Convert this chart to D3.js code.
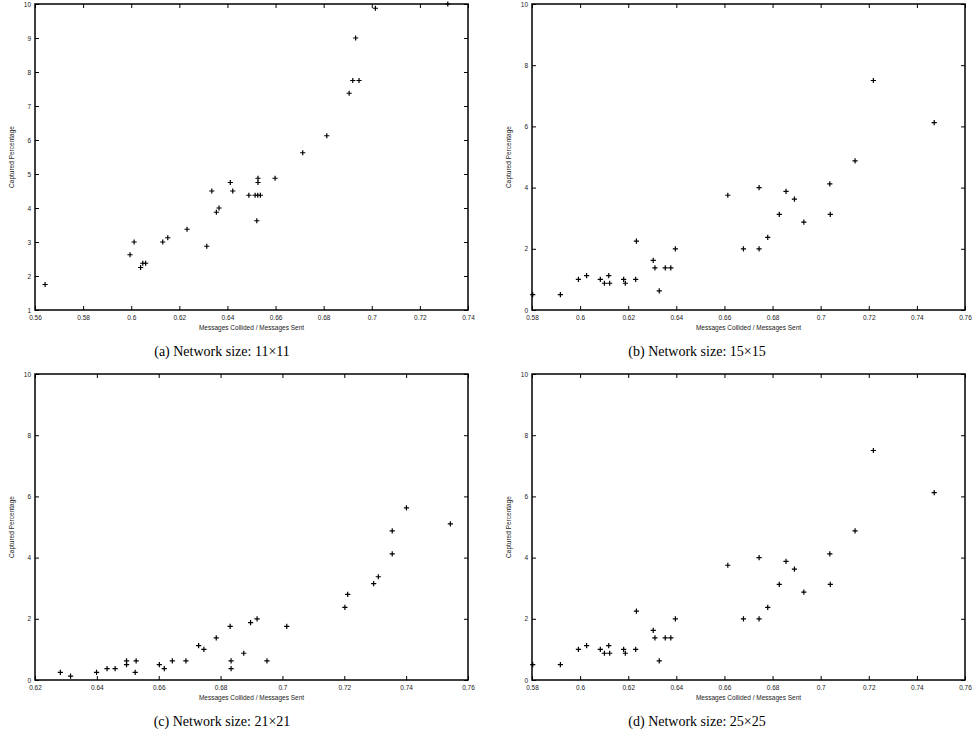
<!DOCTYPE html>
<html>
<head>
<meta charset="utf-8">
<script src="https://cdn.jsdelivr.net/npm/d3@7"></script>
<style>
  body { margin: 0; background: #fff; }
</style>
</head>
<body>
<div id="chart"></div>
<script>
// (a) Network size 11x11
const collidedA = [0.5642, 0.5995, 0.6012, 0.6039, 0.6048, 0.6060, 0.6131, 0.6152, 0.6232, 0.6314,
  0.6335, 0.6354, 0.6365, 0.6412, 0.6422, 0.6489, 0.6515, 0.6526, 0.6537, 0.6527, 0.6527, 0.6522,
  0.6598, 0.6713, 0.6813, 0.6906, 0.6921, 0.6947, 0.6933, 0.7015, 0.7316];
const capturedA = [1.75, 2.625, 3.0, 2.25, 2.375, 2.375, 3.0, 3.125, 3.375, 2.875,
  4.5, 3.875, 4.0, 4.75, 4.5, 4.375, 4.375, 4.375, 4.375, 4.875, 4.75, 3.625,
  4.875, 5.625, 6.125, 7.375, 7.75, 7.75, 9.0, 9.875, 10.0];

// (b) Network size 15x15
const collidedB = [0.5803, 0.5918, 0.5993, 0.6027, 0.6084, 0.6101, 0.6119, 0.6123, 0.6181, 0.6188,
  0.6231, 0.6234, 0.6304, 0.6311, 0.6329, 0.6354, 0.6377, 0.6396, 0.6614, 0.6679, 0.6744, 0.6744,
  0.6780, 0.6828, 0.6856, 0.6891, 0.6930, 0.7038, 0.7040, 0.7143, 0.7219, 0.7472];
const capturedB = [0.5, 0.5, 1.0, 1.125, 1.0, 0.875, 1.125, 0.875, 1.0, 0.875,
  1.0, 2.25, 1.625, 1.375, 0.625, 1.375, 1.375, 2.0, 3.75, 2.0, 2.0, 4.0,
  2.375, 3.125, 3.875, 3.625, 2.875, 4.125, 3.125, 4.875, 7.5, 6.125];

// (c) Network size 21x21
const collidedC = [0.6282, 0.6315, 0.6399, 0.6433, 0.6459, 0.6496, 0.6496, 0.6524, 0.6527, 0.6602,
  0.6618, 0.6644, 0.6688, 0.6729, 0.6746, 0.6786, 0.6831, 0.6834, 0.6834, 0.6875, 0.6897, 0.6918,
  0.6950, 0.7014, 0.7202, 0.7211, 0.7295, 0.7310, 0.7355, 0.7355, 0.7401, 0.7543];
const capturedC = [0.25, 0.125, 0.25, 0.375, 0.375, 0.625, 0.5, 0.25, 0.625, 0.5,
  0.375, 0.625, 0.625, 1.125, 1.0, 1.375, 1.75, 0.625, 0.375, 0.875, 1.875, 2.0,
  0.625, 1.75, 2.375, 2.8, 3.15, 3.375, 4.125, 4.875, 5.625, 5.1];

// (d) Network size 25x25 (the plotted points match panel b)
const collidedD = collidedB.slice();
const capturedD = capturedB.slice();

const xTicksA = [0.56, 0.58, 0.6, 0.62, 0.64, 0.66, 0.68, 0.7, 0.72, 0.74];
const xTicksB = [0.58, 0.6, 0.62, 0.64, 0.66, 0.68, 0.7, 0.72, 0.74, 0.76];
const xTicksC = [0.62, 0.64, 0.66, 0.68, 0.7, 0.72, 0.74, 0.76];
const yTicksA = [1, 2, 3, 4, 5, 6, 7, 8, 9, 10];
const yTicksB = [0, 2, 4, 6, 8, 10];

const captions = ["(a) Network size: 11\u00d711", "(b) Network size: 15\u00d715",
  "(c) Network size: 21\u00d721", "(d) Network size: 25\u00d725"];

const xTitle = "Messages Collided / Messages Sent";
const yTitle = "Captured Percentage";

const width = 972;
const height = 738;

const svg = d3.select("#chart").append("svg")
  .attr("width", width)
  .attr("height", height)
  .attr("viewBox", [0, 0, width, height]);

const panels = [
  { xs: collidedA, ys: capturedA, xTicks: xTicksA, yTicks: yTicksA, xDom: [0.56, 0.74], yDom: [1, 10],
    left: 35, right: 468, top: 4, bottom: 310, caption: captions[0], capX: 222 },
  { xs: collidedB, ys: capturedB, xTicks: xTicksB, yTicks: yTicksB, xDom: [0.58, 0.76], yDom: [0, 10],
    left: 532, right: 965, top: 4, bottom: 310, caption: captions[1], capX: 697 },
  { xs: collidedC, ys: capturedC, xTicks: xTicksC, yTicks: yTicksB, xDom: [0.62, 0.76], yDom: [0, 10],
    left: 35, right: 468, top: 374, bottom: 680, caption: captions[2], capX: 222 },
  { xs: collidedD, ys: capturedD, xTicks: xTicksB, yTicks: yTicksB, xDom: [0.58, 0.76], yDom: [0, 10],
    left: 532, right: 965, top: 374, bottom: 680, caption: captions[3], capX: 697 }
];

const fmt = d => String(d);

panels.forEach(p => {
  const x = d3.scaleLinear().domain(p.xDom).range([p.left, p.right]);
  const y = d3.scaleLinear().domain(p.yDom).range([p.bottom, p.top]);
  const g = svg.append("g");

  // axes with inward ticks, mirrored on top and right
  const styleAxis = sel => {
    sel.select(".domain").remove();
    sel.selectAll("line").attr("stroke", "#000").attr("stroke-width", 1);
    sel.selectAll("text")
      .attr("font-family", "'Liberation Sans', Arial, sans-serif")
      .attr("font-size", 6.5)
      .attr("fill", "#222");
  };

  g.append("g")
    .attr("transform", `translate(0,${p.bottom})`)
    .call(d3.axisBottom(x).tickValues(p.xTicks).tickFormat(fmt).tickSizeInner(-4).tickSizeOuter(0).tickPadding(5))
    .call(styleAxis);
  g.append("g")
    .attr("transform", `translate(0,${p.top})`)
    .call(d3.axisTop(x).tickValues(p.xTicks).tickFormat("").tickSizeInner(-4).tickSizeOuter(0))
    .call(styleAxis);
  g.append("g")
    .attr("transform", `translate(${p.left},0)`)
    .call(d3.axisLeft(y).tickValues(p.yTicks).tickFormat(fmt).tickSizeInner(-4).tickSizeOuter(0).tickPadding(4))
    .call(styleAxis);
  g.append("g")
    .attr("transform", `translate(${p.right},0)`)
    .call(d3.axisRight(y).tickValues(p.yTicks).tickFormat("").tickSizeInner(-4).tickSizeOuter(0))
    .call(styleAxis);

  // frame
  g.append("rect")
    .attr("x", p.left)
    .attr("y", p.top)
    .attr("width", p.right - p.left)
    .attr("height", p.bottom - p.top)
    .attr("fill", "none")
    .attr("stroke", "#000")
    .attr("stroke-width", 1.5);

  // points as + markers
  const pts = d3.zip(p.xs, p.ys);
  g.append("g")
    .attr("stroke", "#000")
    .attr("stroke-width", 1.2)
    .selectAll("path")
    .data(pts)
    .join("path")
    .attr("d", d => {
      const cx = x(d[0]), cy = y(d[1]), r = 2.6;
      return `M${cx - r},${cy}H${cx + r}M${cx},${cy - r}V${cy + r}`;
    });

  // axis titles
  g.append("text")
    .attr("x", (p.left + p.right) / 2)
    .attr("y", p.bottom + 20)
    .attr("text-anchor", "middle")
    .attr("font-family", "'Liberation Sans', Arial, sans-serif")
    .attr("font-size", 6.5)
    .attr("fill", "#222")
    .text(xTitle);
  g.append("text")
    .attr("transform", `translate(${p.left - 21},${(p.top + p.bottom) / 2}) rotate(-90)`)
    .attr("text-anchor", "middle")
    .attr("font-family", "'Liberation Sans', Arial, sans-serif")
    .attr("font-size", 6.5)
    .attr("fill", "#222")
    .text(yTitle);

  // caption
  g.append("text")
    .attr("x", p.capX)
    .attr("y", p.bottom + 46)
    .attr("text-anchor", "middle")
    .attr("font-family", "'Liberation Serif', 'Times New Roman', serif")
    .attr("font-size", 14)
    .attr("fill", "#000")
    .text(p.caption);
});
</script>
</body>
</html>
